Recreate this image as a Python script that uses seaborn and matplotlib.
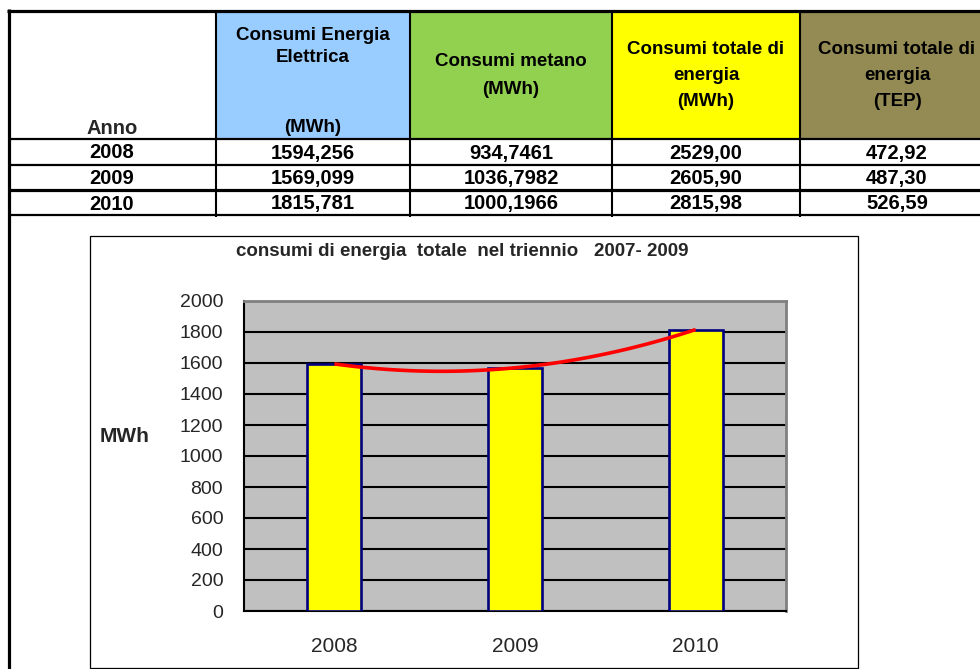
import numpy as np
import matplotlib
matplotlib.use("Agg")
import matplotlib.pyplot as plt
from matplotlib.patches import Rectangle
import seaborn as sns

# ---------------- data ----------------
anni = ["2008", "2009", "2010"]
elettrica_mwh = [1594.256, 1569.099, 1815.781]
metano_mwh = [934.7461, 1036.7982, 1000.1966]
totale_mwh = [2529.00, 2605.90, 2815.98]
totale_tep = [472.92, 487.30, 526.59]
y_ticks = [0, 200, 400, 600, 800, 1000, 1200, 1400, 1600, 1800, 2000]
titolo = "consumi di energia  totale  nel triennio   2007- 2009"

sns.set_style("white")
plt.rcParams['font.family'] = ['Liberation Sans', 'DejaVu Sans']

W, H = 980, 669
fig = plt.figure(figsize=(W / 100, H / 100), dpi=100)
fig.patch.set_facecolor("white")

# overlay axes in pixel coordinates for the table and frames
ax0 = fig.add_axes([0, 0, 1, 1], zorder=0)
ax0.set_xlim(0, W)
ax0.set_ylim(H, 0)
ax0.axis("off")

def fmt(v, d):
    return f"{v:.{d}f}".replace(".", ",")

# header coloured cells
hdr_top, hdr_bot = 11, 139
cols = [8, 216, 410, 612, 800, 994]
hdr_colors = [None, "#99CCFF", "#92D050", "#FFFF00", "#948A54"]
for i, c in enumerate(hdr_colors):
    if c:
        ax0.add_patch(Rectangle((cols[i], hdr_top), cols[i + 1] - cols[i], hdr_bot - hdr_top,
                                facecolor=c, edgecolor="none", zorder=1))

# table lines
lk = dict(color="black", solid_capstyle="butt", zorder=3)
ax0.plot([7, W], [10.5, 10.5], lw=2.3, **lk)
ax0.plot([8.5, 8.5], [9, H], lw=2.3, **lk)
ax0.plot([8, W], [139, 139], lw=1.6, **lk)
ax0.plot([8, W], [165, 165], lw=1.6, **lk)
ax0.plot([8, W], [190, 190], lw=2.3, **lk)
ax0.plot([8, W], [215, 215], lw=1.6, **lk)
for xv in cols[1:5]:
    ax0.plot([xv, xv], [10, 217], lw=1.5, **lk)

hk = dict(ha="center", va="center", fontsize=13.5, fontweight="bold", color="black", zorder=4)
ax0.text(112, 128, "Anno", ha="center", va="center", fontsize=14.5, fontweight="bold", zorder=4)
ax0.text(313, 35, "Consumi Energia", **hk)
ax0.text(313, 57, "Elettrica", **hk)
ax0.text(313, 128, "(MWh)", **hk)
ax0.text(511, 62, "Consumi metano", **hk)
ax0.text(511, 89, "(MWh)", **hk)
ax0.text(706, 50, "Consumi totale di", **hk)
ax0.text(706, 76, "energia", **hk)
ax0.text(706, 102, "(MWh)", **hk)
ax0.text(897, 50, "Consumi totale di", **hk)
ax0.text(897, 76, "energia", **hk)
ax0.text(897, 102, "(TEP)", **hk)

dk = dict(ha="center", va="center", fontsize=14.5, fontweight="bold", color="black", zorder=4)
row_y = [153, 178.5, 204]
for i in range(3):
    ax0.text(112, row_y[i], anni[i], **dk)
    ax0.text(313, row_y[i], fmt(elettrica_mwh[i], 3), **dk)
    ax0.text(511, row_y[i], fmt(metano_mwh[i], 4), **dk)
    ax0.text(706, row_y[i], fmt(totale_mwh[i], 2), **dk)
    ax0.text(897, row_y[i], fmt(totale_tep[i], 2), **dk)

# chart frame
ax0.add_patch(Rectangle((90, 236), 768, 432, facecolor="white", edgecolor="black",
                        lw=0.9, zorder=1))
ax0.text(462, 252, titolo, ha="center", va="center", fontsize=13.5, fontweight="bold", zorder=4)
ax0.text(125, 436, "MWh", ha="center", va="center", fontsize=15, fontweight="bold", zorder=4)

# ---------------- chart ----------------
l, r, t, b = 244, 786, 301, 611
ax = fig.add_axes([l / W, (H - b) / H, (r - l) / W, (b - t) / H], zorder=2)
ax.set_facecolor("#C0C0C0")
sns.barplot(x=anni, y=elettrica_mwh, color="#FFFF00", edgecolor="#000080",
            linewidth=1.9, width=0.3, saturation=1, ax=ax, zorder=3)

# smoothed trend line through the bar tops
pos = np.arange(len(elettrica_mwh))
coef = np.polyfit(pos, elettrica_mwh, 2)
xs = np.linspace(pos[0], pos[-1], 120)
ax.plot(xs, np.polyval(coef, xs), color="#FF0000", lw=2.6, zorder=4, solid_capstyle="butt")

ax.set_xlim(-0.5, 2.5)
ax.set_ylim(0, 2000)
ax.set_yticks(y_ticks)
ax.set_yticklabels([str(v) for v in y_ticks])
ax.yaxis.grid(True, color="black", lw=1.5)
ax.xaxis.grid(False)
ax.set_axisbelow(True)

ax.set_xticks([-0.5, 0.5, 1.5, 2.5])
ax.set_xticklabels([])
ax.set_xticks(pos, minor=True)
ax.set_xticklabels(anni, minor=True)
ax.tick_params(axis="x", which="major", direction="out", length=7, width=1.2, color="black")
ax.tick_params(axis="x", which="minor", length=0, pad=19, labelsize=15)
ax.tick_params(axis="y", direction="out", length=6, width=1.2, color="black", pad=9, labelsize=14)
ax.set_xlabel("")
ax.set_ylabel("")

for s in ["left", "bottom"]:
    ax.spines[s].set_color("black")
    ax.spines[s].set_linewidth(1.5)
for s in ["top", "right"]:
    ax.spines[s].set_color("#808080")
    ax.spines[s].set_linewidth(2)
    ax.spines[s].set_visible(True)

fig.savefig("out.png", dpi=100)
